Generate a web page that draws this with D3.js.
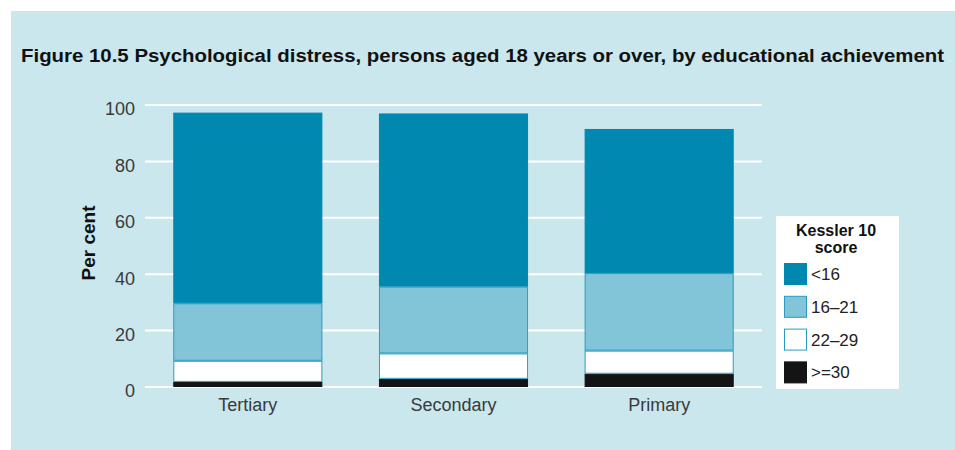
<!DOCTYPE html>
<html>
<head>
<meta charset="utf-8">
<script src="https://cdn.jsdelivr.net/npm/d3@7"></script>
<style>
  body { margin: 0; background: #fff; }
  svg { display: block; }
  text { font-family: "Liberation Sans", Arial, sans-serif; }
</style>
</head>
<body>
<div id="chart"></div>
<script>
// data (per cent)
const categories = ["Tertiary", "Secondary", "Primary"];
const scoreGroups = ["<16", "16\u201321", "22\u201329", ">=30"];
const veryHigh = [1.8, 2.9, 4.7];      // >=30
const high = [7.5, 9.0, 8.2];          // 22-29
const moderate = [20.4, 23.7, 27.5];   // 16-21
const low = [67.6, 61.4, 51.1];        // <16
const yTicks = [0, 20, 40, 60, 80, 100];

const width = 955, height = 450;
const svg = d3.select("#chart").append("svg")
    .attr("width", width)
    .attr("height", height);

// panel background
svg.append("rect")
    .attr("x", 11).attr("y", 11)
    .attr("width", width - 11).attr("height", height - 11)
    .attr("fill", "#cbe7ee");

// title
svg.append("text")
    .attr("x", 21).attr("y", 62)
    .attr("font-size", 18)
    .attr("font-weight", "bold")
    .attr("fill", "#111")
    .attr("textLength", 923)
    .attr("lengthAdjust", "spacingAndGlyphs")
    .text("Figure 10.5 Psychological distress, persons aged 18 years or over, by educational achievement");

const x = d3.scaleBand()
    .domain(categories)
    .range([145, 762])
    .paddingInner(0.275)
    .paddingOuter(0.1375);

const y = d3.scaleLinear()
    .domain([0, 100])
    .range([387, 105]);

// gridlines
svg.append("g")
    .selectAll("line")
    .data(yTicks)
    .join("line")
    .attr("x1", 145).attr("x2", 762)
    .attr("y1", d => y(d)).attr("y2", d => y(d))
    .attr("stroke", "#fff")
    .attr("stroke-width", 2);

// y axis labels
const yAxis = svg.append("g")
    .attr("transform", "translate(135,0)")
    .call(d3.axisLeft(y).tickValues(yTicks).tickSize(0).tickPadding(0));
yAxis.select(".domain").remove();
yAxis.selectAll("text")
    .attr("font-size", 18)
    .attr("fill", "#3a3a3a")
    .attr("dy", "0.55em")
    .style("font-family", "'Liberation Sans', Arial, sans-serif");

svg.append("text")
    .attr("transform", "translate(95,243) rotate(-90)")
    .attr("text-anchor", "middle")
    .attr("font-size", 19)
    .attr("font-weight", "bold")
    .attr("fill", "#111")
    .text("Per cent");

// x axis labels
const xAxis = svg.append("g")
    .attr("transform", "translate(0,395)")
    .call(d3.axisBottom(x).tickSize(0).tickPadding(0));
xAxis.select(".domain").remove();
xAxis.selectAll("text")
    .attr("font-size", 18)
    .attr("fill", "#3a3a3a")
    .attr("dy", "0.9em")
    .style("font-family", "'Liberation Sans', Arial, sans-serif");

// stack
const rows = categories.map((c, i) => ({
    cat: c,
    ">=30": veryHigh[i],
    "22\u201329": high[i],
    "16\u201321": moderate[i],
    "<16": low[i]
}));
const order = [">=30", "22\u201329", "16\u201321", "<16"];
const stack = d3.stack().keys(order)(rows);

const fills = { "<16": "#0088b0", "16\u201321": "#82c4d8", "22\u201329": "#ffffff", ">=30": "#141414" };
const strokes = { "<16": "#0088b0", "16\u201321": "#2a9cc2", "22\u201329": "#2a9cc2", ">=30": "#141414" };

svg.append("g")
    .selectAll("g")
    .data(stack)
    .join("g")
    .attr("fill", d => fills[d.key])
    .attr("stroke", d => strokes[d.key])
    .selectAll("rect")
    .data(d => d)
    .join("rect")
    .attr("x", d => x(d.data.cat) + 0.5)
    .attr("width", x.bandwidth() - 1)
    .attr("y", d => y(d[1]) + 0.5)
    .attr("height", d => Math.max(0, y(d[0]) - y(d[1]) - 1))
    .attr("stroke-width", 1);

// legend
const legend = svg.append("g");
legend.append("rect")
    .attr("x", 776).attr("y", 216)
    .attr("width", 123).attr("height", 173)
    .attr("fill", "#fff");
legend.append("text")
    .attr("x", 836).attr("y", 236)
    .attr("text-anchor", "middle")
    .attr("font-size", 16)
    .attr("font-weight", "bold")
    .attr("fill", "#111")
    .text("Kessler 10");
legend.append("text")
    .attr("x", 836).attr("y", 253)
    .attr("text-anchor", "middle")
    .attr("font-size", 16)
    .attr("font-weight", "bold")
    .attr("fill", "#111")
    .text("score");

const items = legend.selectAll("g.item")
    .data(scoreGroups)
    .join("g")
    .attr("class", "item")
    .attr("transform", (d, i) => `translate(784,${263 + i * 32.8})`);
items.append("rect")
    .attr("x", 0.5).attr("y", 0.5)
    .attr("width", 22).attr("height", 21)
    .attr("fill", d => fills[d])
    .attr("stroke", d => strokes[d]);
items.append("text")
    .attr("x", 27).attr("y", 17)
    .attr("font-size", 17)
    .attr("fill", "#222")
    .text(d => d);
</script>
</body>
</html>
